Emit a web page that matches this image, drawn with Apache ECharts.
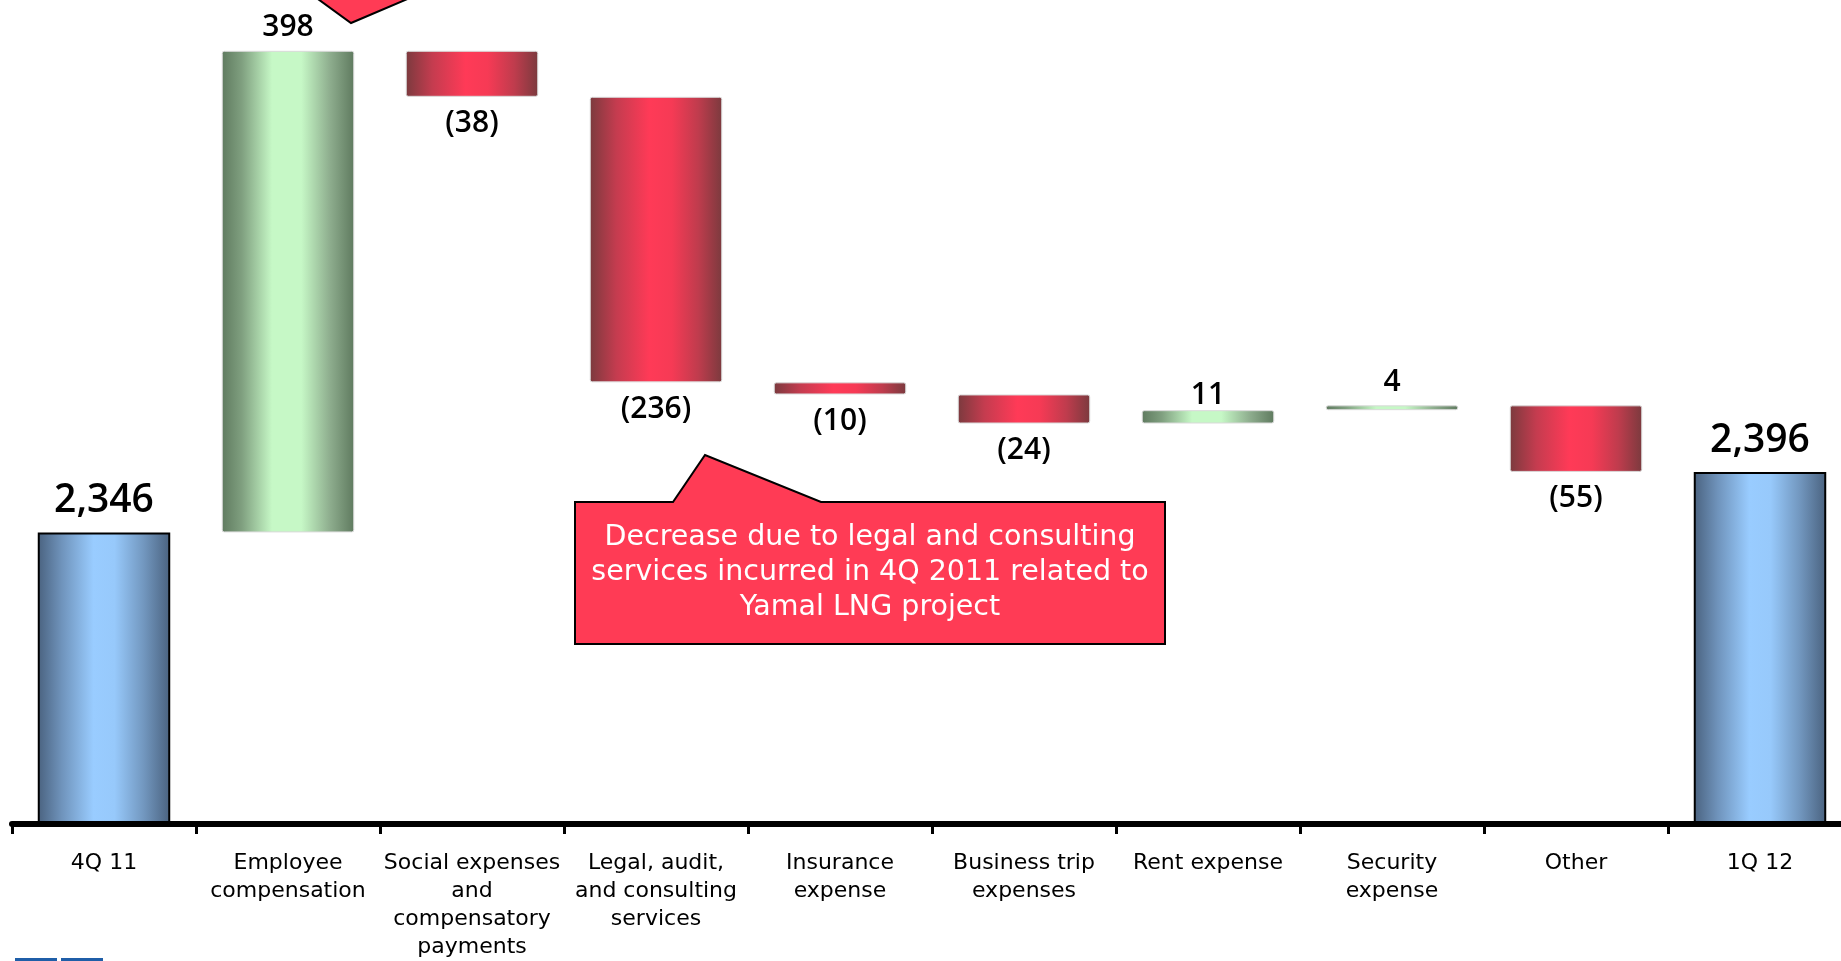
<!DOCTYPE html>
<html>
<head>
<meta charset="utf-8">
<title>G&amp;A expenses bridge, 4Q 11 to 1Q 12</title>
<script src="https://cdn.jsdelivr.net/npm/echarts@6/dist/echarts.min.js"></script>
<style>
  html, body { margin: 0; padding: 0; background: #ffffff; }
  #frame { width: 1841px; height: 961px; overflow: hidden; position: relative; }
  /* the last category band runs a little past the right edge of the frame */
  #chart { width: 1852px; height: 961px; position: absolute; left: 0; top: 0; }
</style>
</head>
<body>
<div id="frame"><div id="chart"></div></div>
<script>
// Bridge categories (first and last are totals, the rest are changes)
const categories = [
  '4Q 11',
  'Employee\ncompensation',
  'Social expenses\nand\ncompensatory\npayments',
  'Legal, audit,\nand consulting\nservices',
  'Insurance\nexpense',
  'Business trip\nexpenses',
  'Rent expense',
  'Security\nexpense',
  'Other',
  '1Q 12'
];
const openingTotal = 2346;
const closingTotal = 2396;
const changes = [398, -38, -236, -10, -24, 11, 4, -55];
const calloutText = 'Decrease due to legal and consulting\nservices incurred in 4Q 2011 related to\nYamal LNG project';

// per-category label offsets (category index -> distance in px)
const labelDistanceOverride = { 6: 0 };

// Build the invisible base plus the visible segments of the waterfall
const baseData = [0];
const totalData = [openingTotal];
const upData = ['-'];
const downData = ['-'];
let running = openingTotal;
changes.forEach(function (c, i) {
  const idx = i + 1;
  if (c >= 0) {
    baseData.push(running);
    if (labelDistanceOverride[idx] !== undefined) {
      upData.push({ value: c, label: { distance: labelDistanceOverride[idx] } });
    } else {
      upData.push(c);
    }
    downData.push('-');
    totalData.push('-');
  } else {
    baseData.push(running + c);
    downData.push(-c);
    upData.push('-');
    totalData.push('-');
  }
  running += c;
});
baseData.push(0);
totalData.push(closingTotal);
upData.push('-');
downData.push('-');

function hGrad(stops) {
  return new echarts.graphic.LinearGradient(0, 0, 1, 0,
    stops.map(function (s) { return { offset: s[0], color: s[1] }; }));
}
const blueFill = hGrad([[0, '#4a627f'], [0.18, '#6f93bb'], [0.42, '#99ccff'], [0.58, '#97c9fb'], [0.8, '#7297bf'], [1, '#4a627f']]);
const greenFill = hGrad([[0, '#5f7a5f'], [0.15, '#7f9f7f'], [0.38, '#c6f8c6'], [0.6, '#c6f8c6'], [0.82, '#8dac8d'], [1, '#5f7a5f']]);
const redFill = hGrad([[0, '#7b3a3e'], [0.2, '#c43c4f'], [0.45, '#ff3a57'], [0.62, '#f63a55'], [0.82, '#bf3c4d'], [1, '#7b3a3e']]);

const numFont = '"Open Sans", "DejaVu Sans", sans-serif';

const chart = echarts.init(document.getElementById('chart'), null, { renderer: 'canvas' });

chart.setOption({
  animation: false,
  backgroundColor: '#ffffff',
  grid: { left: 12, right: 0, top: 0, bottom: 130, containLabel: false },
  xAxis: {
    type: 'category',
    data: categories,
    z: 10,
    axisLine: { show: true, lineStyle: { color: '#000000', width: 6 } },
    axisTick: { show: true, length: 10, lineStyle: { color: '#000000', width: 3 } },
    axisLabel: {
      interval: 0,
      margin: 25,
      fontFamily: '"DejaVu Sans", sans-serif',
      fontSize: 22,
      lineHeight: 28,
      color: '#000000'
    }
  },
  yAxis: {
    type: 'value',
    min: 2105,
    max: 2786,
    show: false,
    splitLine: { show: false }
  },
  series: [
    {
      name: 'base',
      type: 'bar',
      stack: 'bridge',
      barWidth: '72%',
      itemStyle: { color: 'transparent' },
      emphasis: { disabled: true },
      data: baseData
    },
    {
      name: 'total',
      type: 'bar',
      stack: 'bridge',
      barWidth: '72%',
      itemStyle: { color: blueFill, borderColor: '#000000', borderWidth: 2 },
      label: {
        show: true,
        position: 'top',
        distance: 12,
        fontFamily: numFont,
        fontSize: 39,
        fontWeight: 600,
        color: '#000000',
        formatter: function (p) { return Number(p.value).toLocaleString('en-US'); }
      },
      data: totalData
    },
    {
      name: 'increase',
      type: 'bar',
      stack: 'bridge',
      barWidth: '72%',
      itemStyle: { color: greenFill, borderColor: '#d9d9d9', borderWidth: 1, borderRadius: 2 },
      label: {
        show: true,
        position: 'top',
        distance: 8,
        fontFamily: numFont,
        fontSize: 30,
        fontWeight: 600,
        color: '#000000',
        formatter: function (p) { return String(p.value); }
      },
      data: upData
    },
    {
      name: 'decrease',
      type: 'bar',
      stack: 'bridge',
      barWidth: '72%',
      itemStyle: { color: redFill, borderColor: '#d9d9d9', borderWidth: 1, borderRadius: 2 },
      label: {
        show: true,
        position: 'bottom',
        distance: 12,
        fontFamily: numFont,
        fontSize: 30,
        fontWeight: 600,
        color: '#000000',
        formatter: function (p) { return '(' + p.value + ')'; }
      },
      data: downData
    }
  ],
  graphic: [
    // pointer of the callout above the chart (box itself is off-canvas)
    {
      type: 'polygon',
      z: 20,
      shape: { points: [[300, -14], [351, 23], [438, -14]] },
      style: { fill: '#ff3b55', stroke: '#000000', lineWidth: 2 }
    },
    // callout for the legal and consulting decrease
    {
      type: 'polygon',
      z: 20,
      shape: {
        points: [[575, 502], [673, 502], [705, 455], [821, 502], [1165, 502], [1165, 644], [575, 644]]
      },
      style: { fill: '#ff3b55', stroke: '#000000', lineWidth: 2 }
    },
    {
      type: 'text',
      z: 21,
      x: 870,
      y: 573,
      style: {
        text: calloutText,
        fill: '#ffffff',
        fontFamily: '"DejaVu Sans", sans-serif',
        fontSize: 28.5,
        lineHeight: 35,
        align: 'center',
        verticalAlign: 'middle'
      }
    },
    // corner logo strip
    { type: 'rect', z: 20, shape: { x: 15, y: 958, width: 42, height: 6 }, style: { fill: '#1f5ea8' } },
    { type: 'rect', z: 20, shape: { x: 61, y: 958, width: 42, height: 6 }, style: { fill: '#1f5ea8' } }
  ]
});
</script>
</body>
</html>
